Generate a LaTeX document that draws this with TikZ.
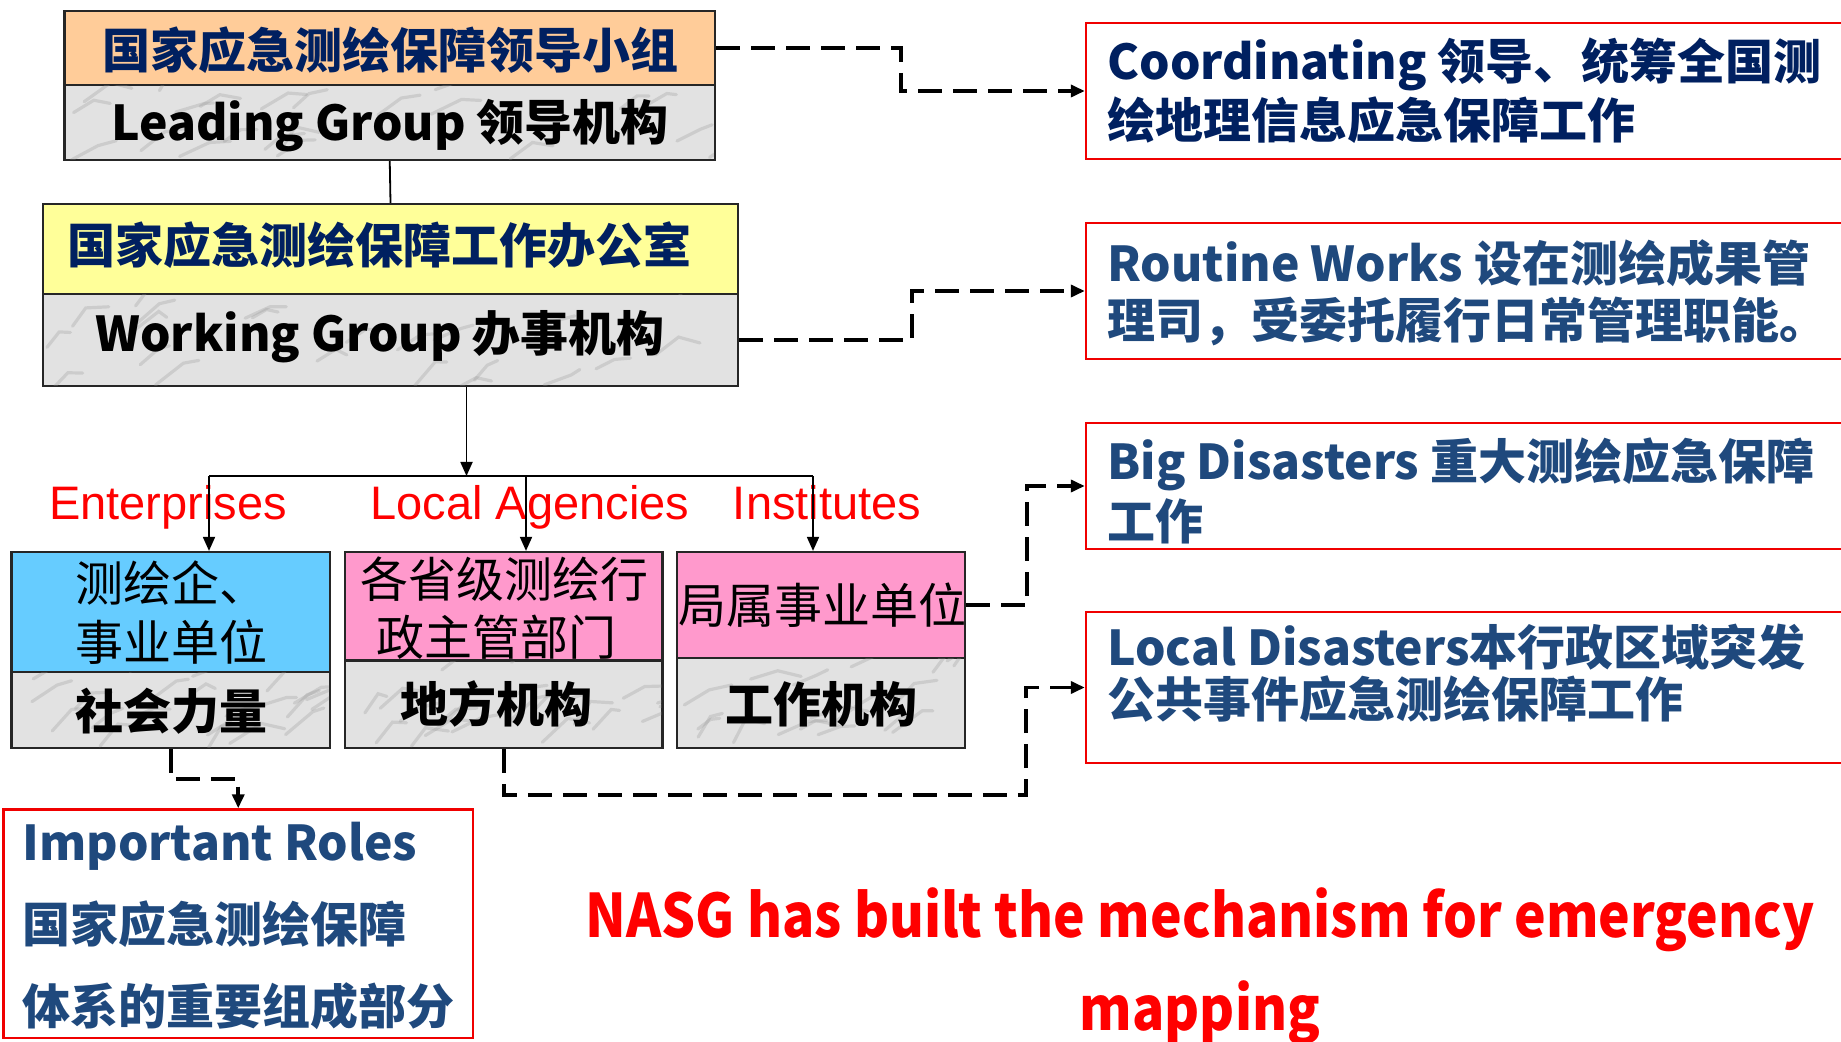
\documentclass[tikz,border=0pt]{standalone}
\usepackage{fontspec}
\newfontfamily\cjk{Noto Sans CJK SC}
\newfontfamily\arialf{Liberation Sans}
\usetikzlibrary{fit,arrows.meta,calc}
\definecolor{peach}{RGB}{255,204,153}
\definecolor{lyellow}{RGB}{255,255,153}
\definecolor{skyb}{RGB}{102,204,255}
\definecolor{lpink}{RGB}{255,153,204}
\definecolor{marble}{RGB}{226,226,226}
\definecolor{vein}{RGB}{150,150,150}
\definecolor{navy}{RGB}{0,32,96}
\definecolor{blueT}{RGB}{31,73,125}
\definecolor{redB}{RGB}{240,0,0}
\begin{document}
\begin{tikzpicture}[x=0.5pt,y=-0.5pt,
  boxS/.style={draw=black!85,line width=1.1pt,inner sep=0pt},
  marblebox/.style={boxS,fill=marble},
  redbox/.style={draw=redB,line width=1.2pt,inner sep=0pt},
  solidc/.style={draw=black,line width=0.9pt},
  tip/.style={-{Triangle[length=7pt,width=6pt]}},
  dline/.style={draw=black,line width=1.8pt,dash pattern=on 12pt off 5.5pt},
  tnavy/.style={font=\cjk\bfseries\fontsize{24}{28}\selectfont,text=navy,inner sep=0pt},
  tblk/.style={font=\cjk\bfseries\fontsize{24}{28}\selectfont,text=black,inner sep=0pt},
  treg/.style={font=\cjk\fontsize{24}{28}\selectfont,text=black,inner sep=0pt},
  tblue/.style={font=\cjk\bfseries\fontsize{24}{28}\selectfont,text=blueT,inner sep=0pt,anchor=base west},
  tred/.style={font=\arialf\fontsize{23.5}{28}\selectfont,text=red,inner sep=0pt,anchor=base},
  tbig/.style={font=\cjk\bfseries\fontsize{30}{34}\selectfont,text=red,inner sep=0pt,anchor=base},
]
\useasboundingbox (0,0) rectangle (1841,1042);

% ---------- left hierarchy boxes ----------
\node[boxS,fill=peach,fit={(64.5,11) (715,85)}] (lgTop) {};
\node[marblebox,fit={(64.5,85) (715,160)}] (lgBot) {};
\node[boxS,fill=lyellow,fit={(43,204) (738,294)}] (wgTop) {};
\node[marblebox,fit={(43,294) (738,386)}] (wgBot) {};

\node[boxS,fill=skyb,fit={(11.5,552) (330,672)}] (b1Top) {};
\node[marblebox,fit={(11.5,672) (330,748)}] (b1Bot) {};
\node[boxS,fill=lpink,fit={(345,552) (662.5,660.5)}] (b2Top) {};
\node[marblebox,fit={(345,660.5) (662.5,748)}] (b2Bot) {};
\node[boxS,fill=lpink,fit={(677,552) (965,658)}] (b3Top) {};
\node[marblebox,fit={(677,658) (965,748)}] (b3Bot) {};

% ---------- marble veins ----------
\pgfmathsetseed{11}
\foreach \b in {lgBot,wgBot,b1Bot,b2Bot,b3Bot}{
  \begin{scope}
    \clip ([xshift=1pt,yshift=-1pt]\b.north west) rectangle ([xshift=-1pt,yshift=1pt]\b.south east);
    \foreach \i in {1,...,22}{
      \draw[vein,opacity=0.28,line width=1.6pt,line cap=round]
        let \p1=(\b.north west), \p2=(\b.south east) in
        ({\x1+rnd*(\x2-\x1)},{\y2+rnd*(\y1-\y2)}) -- ++({12+20*rnd},{-8-16*rnd}) -- ++({8+16*rnd},{-6+12*rnd});
    }
  \end{scope}
}

% ---------- right red boxes ----------
\node[redbox,fit={(1086,23) (1844,159)}] (rA) {};
\node[redbox,fit={(1086,223) (1844,359)}] (rB) {};
\node[redbox,fit={(1086,423) (1844,549)}] (rC) {};
\node[redbox,fit={(1086,612) (1844,763)}] (rD) {};
\node[redbox,fit={(3.5,809.5) (473,1038)}] (imp) {};

% ---------- texts in left boxes ----------
\node[tnavy,anchor=base] (t1) at (390,69) {国家应急测绘保障领导小组};
\node[tblk,anchor=base] (t2) at (390,141) {Leading Group 领导机构};
\node[tnavy,anchor=base] (t3) at (379,264) {国家应急测绘保障工作办公室};
\node[tblk,anchor=base] (t4) at (380,352) {Working Group 办事机构};

\node[treg,anchor=base west] (t5) at (75,602) {测绘企、};
\node[treg,anchor=base west] (t6) at (75,660) {事业单位};
\node[tblk,anchor=base west] (t7) at (75,729) {社会力量};
\node[treg,anchor=base] (t8) at (504,597) {各省级测绘行};
\node[treg,anchor=base] (t9) at (496.5,655) {政主管部门};
\node[tblk,anchor=base] (t10) at (496,722) {地方机构};
\node[treg,anchor=base] (t11) at (822,624) {局属事业单位};
\node[tblk,anchor=base] (t12) at (821,722) {工作机构};

\node[tred] (l1) at (168,520) {Enterprises};
\node[tred] (l2) at (530,520) {Local Agencies};
\node[tred] (l3) at (827,520) {Institutes};

% ---------- texts in right boxes ----------
\node[tblue,text=navy] (a1) at (1107,80) {Coordinating 领导、统筹全国测};
\node[tblue,text=navy] (a2) at (1107,139) {绘地理信息应急保障工作};
\node[tblue] (b1) at (1107,282) {Routine Works 设在测绘成果管};
\node[tblue] (b2) at (1107,339) {理司，受委托履行日常管理职能。};
\node[tblue] (c1) at (1107,480) {Big Disasters 重大测绘应急保障};
\node[tblue] (c2) at (1107,539) {工作};
\node[tblue] (d1) at (1107,665) {Local Disasters本行政区域突发};
\node[tblue] (d2) at (1107,717) {公共事件应急测绘保障工作};

\node[tblue] (i1) at (22,860) {Important Roles};
\node[tblue] (i2) at (22,942) {国家应急测绘保障};
\node[tblue] (i3) at (22,1024) {体系的重要组成部分};

\node[tbig] (n1) at (1200,937) {\scalebox{0.89}[1]{NASG has built the mechanism for emergency}};
\node[tbig] (n2) at (1200,1030) {\scalebox{0.89}[1]{mapping}};

% ---------- solid tree connectors ----------
\coordinate (hub) at (466.5,476);
\coordinate (hl) at (209,476);
\coordinate (hm) at (526,476);
\coordinate (hr) at (813,476);
\draw[solidc] (lgBot.south) -- (wgTop.north);
\draw[solidc] (hl) -- (hr);
\draw[solidc,tip] (wgBot.south -| hub) -- (hub);
\draw[solidc,tip] (hl) -- (hl |- b1Top.north);
\draw[solidc,tip] (hm) -- (hm |- b2Top.north);
\draw[solidc,tip] (hr) -- (hr |- b3Top.north);

% ---------- dashed connectors ----------
\draw[dline,tip] (lgTop.east) -- ++(185,0) |- (rA.west);
\draw[dline,tip] (wgBot.east) -- ++(173,0) |- (rB.west);
\draw[dline,tip] (b3Top.east) -- ++(61,0) |- (rC.west);
\coordinate (jD) at (1026,795);
\draw[dline,tip] (b2Bot.south) |- (jD) |- (rD.west);
\draw[dline,tip] (b1Bot.south) -- ++(0,30) -| (imp.north);
\end{tikzpicture}
\end{document}
